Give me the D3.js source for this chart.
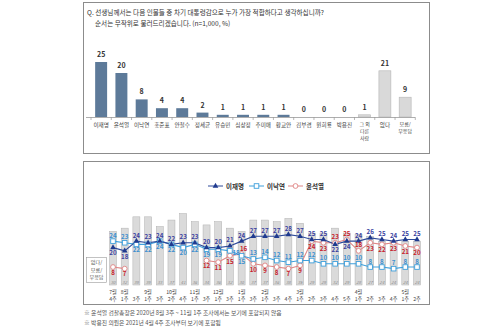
<!DOCTYPE html>
<html><head><meta charset="utf-8">
<script src="https://cdn.jsdelivr.net/npm/d3@7"></script>
<style>
html,body{margin:0;padding:0;background:#fff;}
svg{display:block;font-family:"Noto Sans CJK KR","Noto Sans",sans-serif;}
</style></head>
<body>
<svg id="c" width="500" height="333"></svg>
<script>
// ---------- Top chart data ----------
const topCategories = ["이재명","윤석열","이낙연","홍준표","안철수","정세균","유승민","심상정","추미애","황교안","김부겸","원희룡","박용진","그 외|다른|사람","없다","모름/|무응답"];
const topValues = [25,20,8,4,4,2,1,1,1,1,0,0,0,1,21,9];
const topGreyFrom = 13; // index from which bars are "other" (grey)

// ---------- Trend chart data ----------
const monthLabels = ["7월","8월","","9월","","10월","","11월","","12월","","1월","","2월","","","3월","","","","","4월","","","","5월",""];
const weekLabels  = ["4주","1주","3주","1주","3주","2주","4주","1주","3주","1주","3주","1주","3주","1주","3주","4주","1주","2주","3주","4주","5주","1주","2주","3주","4주","1주","2주"];
const leeValues   = [20,18,24,23,24,22,23,23,20,20,21,24,27,27,27,28,27,25,25,22,24,24,26,25,24,25,25];
const nakValues   = [24,23,22,22,24,22,20,22,19,19,18,15,13,14,12,11,12,12,10,10,10,10,8,8,7,8,8];
const yoonValues  = [8,7,null,null,null,null,null,null,12,11,15,16,10,9,8,7,9,24,23,23,25,18,23,22,23,21,20];
const noneValues  = [30,32,39,39,33,37,41,36,34,36,32,30,37,37,36,38,35,29,29,32,29,28,27,24,24,24,24];
const legendNames = ["이재명","이낙연","윤석열"];

// label placement (style): a = above, A = above-right, b = below, r = right
const leePos  = "bbaaaaaaaaaaaaaaaaabbaaaaaa";
const nakPos  = "aabbbbbbbbrbaaaaaaaaaaaaaaa";
const yoonPos = "bb______bbbAbbbbbbbaaabbbbb";

const svg = d3.select("#c");
svg.append("rect").attr("width",500).attr("height",333).attr("fill","#fff");

// ---------- Top panel ----------
svg.append("rect").attr("x",83.5).attr("y",2.5).attr("width",346).attr("height",151)
  .attr("fill","none").attr("stroke","#8c8c8c").attr("stroke-width",1);
svg.append("text").attr("x",87).attr("y",15).attr("font-size",6.6).attr("fill","#333")
  .text("Q. 선생님께서는 다음 인물들 중 차기 대통령감으로 누가 가장 적합하다고 생각하십니까?");
svg.append("text").attr("x",95).attr("y",26).attr("font-size",6.6).attr("fill","#333")
  .text("순서는 무작위로 불러드리겠습니다. (n=1,000, %)");

const xTop = d3.scaleBand().domain(topCategories).range([91,415.3]).paddingInner(0.41).paddingOuter(0.205);
const yTop = d3.scaleLinear().domain([0,25]).range([117,62]);

const gTop = svg.append("g");
gTop.selectAll("rect.bar").data(topValues).join("rect")
  .attr("class","bar")
  .attr("x",(d,i)=>xTop(topCategories[i]))
  .attr("width",xTop.bandwidth())
  .attr("y",d=>yTop(d))
  .attr("height",d=>yTop(0)-yTop(d))
  .attr("fill",(d,i)=> i>=topGreyFrom ? "#d9d9d9" : "#5d7a99")
  .attr("stroke",(d,i)=> i>=topGreyFrom ? "#b5b5b5" : "none")
  .attr("stroke-width",0.6);
gTop.selectAll("text.val").data(topValues).join("text")
  .attr("class","val")
  .attr("x",(d,i)=>xTop(topCategories[i])+xTop.bandwidth()/2)
  .attr("y",d=>yTop(d)-5)
  .attr("text-anchor","middle").attr("font-size",7).attr("font-weight","bold").attr("fill","#333")
  .text(d=>d);

const axTop = d3.axisBottom(xTop).tickSize(0).tickFormat("");
const axG = gTop.append("g").attr("transform",`translate(0,${yTop(0)})`).call(axTop);
axG.select(".domain").attr("stroke","#999").attr("stroke-width",0.8).attr("d",`M86,0.5H415`);
const step = xTop.step();
gTop.selectAll("line.tk").data(d3.range(topCategories.length+1)).join("line")
  .attr("class","tk")
  .attr("x1",i=>xTop(topCategories[0]) - (step-xTop.bandwidth())/2 + i*step)
  .attr("x2",i=>xTop(topCategories[0]) - (step-xTop.bandwidth())/2 + i*step)
  .attr("y1",yTop(0)).attr("y2",yTop(0)+3).attr("stroke","#999").attr("stroke-width",0.7);
topCategories.forEach((c,i)=>{
  const lines = c.split("|");
  const multi = lines.length>1;
  lines.forEach((l,j)=>{
    gTop.append("text").attr("x",xTop(c)+xTop.bandwidth()/2).attr("y",yTop(0)+(multi?8.8:9.5)+j*7.3)
      .attr("text-anchor","middle").attr("font-size",multi?5.0:5.6).attr("fill","#444").text(l);
  });
});

// ---------- Bottom panel ----------
svg.append("rect").attr("x",83.5).attr("y",161.5).attr("width",346).attr("height",143)
  .attr("fill","none").attr("stroke","#8c8c8c").attr("stroke-width",1);

const xL = d3.scalePoint().domain(d3.range(weekLabels.length)).range([113,417]);
const yL = d3.scaleLinear().domain([0,50]).range([280,199]);
const barBase = 285;

const gB = svg.append("g");
gB.selectAll("rect.nb").data(noneValues).join("rect")
  .attr("class","nb")
  .attr("x",(d,i)=>xL(i)-3.5).attr("width",7)
  .attr("y",d=>yL(d)).attr("height",d=>barBase-yL(d))
  .attr("fill","#dadada").attr("stroke","#b0b0b0").attr("stroke-width",0.5);
gB.selectAll("text.nbv").data(noneValues).join("text")
  .attr("class","nbv")
  .attr("x",(d,i)=>xL(i)).attr("y",barBase-1.5)
  .attr("text-anchor","middle").attr("font-size",4.2).attr("font-style","italic").attr("fill","#888")
  .text(d=>d);

// y label box
svg.append("rect").attr("x",86.5).attr("y",257.5).attr("width",20).attr("height",25)
  .attr("fill","#fff").attr("stroke","#9a9a9a").attr("stroke-width",0.6);
["없다/","모름/","무응답"].forEach((l,j)=>{
  svg.append("text").attr("x",96.5).attr("y",264+j*7.5).attr("text-anchor","middle")
    .attr("font-size",5.1).attr("fill","#555").text(l);
});

// x labels
gB.selectAll("text.mo").data(monthLabels).join("text")
  .attr("class","mo").attr("x",(d,i)=>xL(i)).attr("y",294)
  .attr("text-anchor","middle").attr("font-size",5.2).attr("fill","#444").text(d=>d);
gB.selectAll("text.wk").data(weekLabels).join("text")
  .attr("class","wk").attr("x",(d,i)=>xL(i)).attr("y",300.5)
  .attr("text-anchor","middle").attr("font-size",5.2).attr("fill","#444").text(d=>d);

const series = [
  {vals:leeValues, pos:leePos, line:"#2f4b9a", text:"#3b3fa0", marker:"tri"},
  {vals:nakValues, pos:nakPos, line:"#3fa0dc", text:"#3d8fd0", marker:"sq"},
  {vals:yoonValues, pos:yoonPos, line:"#e08585", text:"#c8202a", marker:"circ"}
];
const lineGen = d3.line().defined(d=>d.v!=null).x(d=>xL(d.i)).y(d=>yL(d.v));
function drawMarker(g, type, color, x, y){
  if(type==="tri"){
    g.append("path").attr("d",d3.symbol(d3.symbolTriangle,14)()).attr("transform",`translate(${x},${y})`)
      .attr("fill","#1f3a8f");
  } else if(type==="sq"){
    g.append("rect").attr("x",x-2.3).attr("y",y-2.3).attr("width",4.6).attr("height",4.6)
      .attr("fill","#fff").attr("stroke",color).attr("stroke-width",0.9);
  } else {
    g.append("circle").attr("cx",x).attr("cy",y).attr("r",2.4)
      .attr("fill","#fff").attr("stroke",color).attr("stroke-width",0.9);
  }
}
[2,1,0].forEach(si=>{
  const s = series[si];
  const pts = s.vals.map((v,i)=>({v,i}));
  gB.append("path").datum(pts).attr("d",lineGen).attr("fill","none")
    .attr("stroke",s.line).attr("stroke-width",1.1);
});
[2,1,0].forEach(si=>{
  const s = series[si];
  s.vals.forEach((v,i)=>{ if(v!=null) drawMarker(gB, s.marker, s.line, xL(i), yL(v)); });
});
series.forEach(s=>{
  s.vals.forEach((v,i)=>{
    if(v==null) return;
    const p = s.pos[i];
    const t = gB.append("text").attr("font-size",6.2).attr("font-weight","bold").attr("fill",s.text).text(v);
    if(p==="r"){
      t.attr("x",xL(i)+2.5).attr("y",yL(v)+4).attr("text-anchor","start");
    } else if(p==="A"){
      t.attr("x",xL(i)+2).attr("y",yL(v)-3).attr("text-anchor","middle");
    } else {
      t.attr("x",xL(i)).attr("y", p==="a" ? yL(v)-3.5 : yL(v)+7.8).attr("text-anchor","middle");
    }
  });
});

// legend
const legX = [208,249,288];
legendNames.forEach((n,i)=>{
  const s = series[i];
  const g = svg.append("g");
  g.append("line").attr("x1",legX[i]).attr("x2",legX[i]+15).attr("y1",186).attr("y2",186)
    .attr("stroke",s.line).attr("stroke-width",1);
  drawMarker(g, s.marker, s.line, legX[i]+7.5, 186);
  g.append("text").attr("x",legX[i]+18).attr("y",188.5).attr("font-size",6.5).attr("fill","#333")
    .attr("font-weight","bold").text(n);
});

// notes
svg.append("text").attr("x",84).attr("y",315).attr("font-size",5.8).attr("fill","#555")
  .text("※ 윤석열 검찰총장은 2020년 8월 3주 ~ 11월 1주 조사에서는 보기에 포함되지 않음");
svg.append("text").attr("x",84).attr("y",325).attr("font-size",5.8).attr("fill","#555")
  .text("※ 박용진 의원은 2021년 4월 4주 조사부터 보기에 포함됨");
</script>
</body></html>
